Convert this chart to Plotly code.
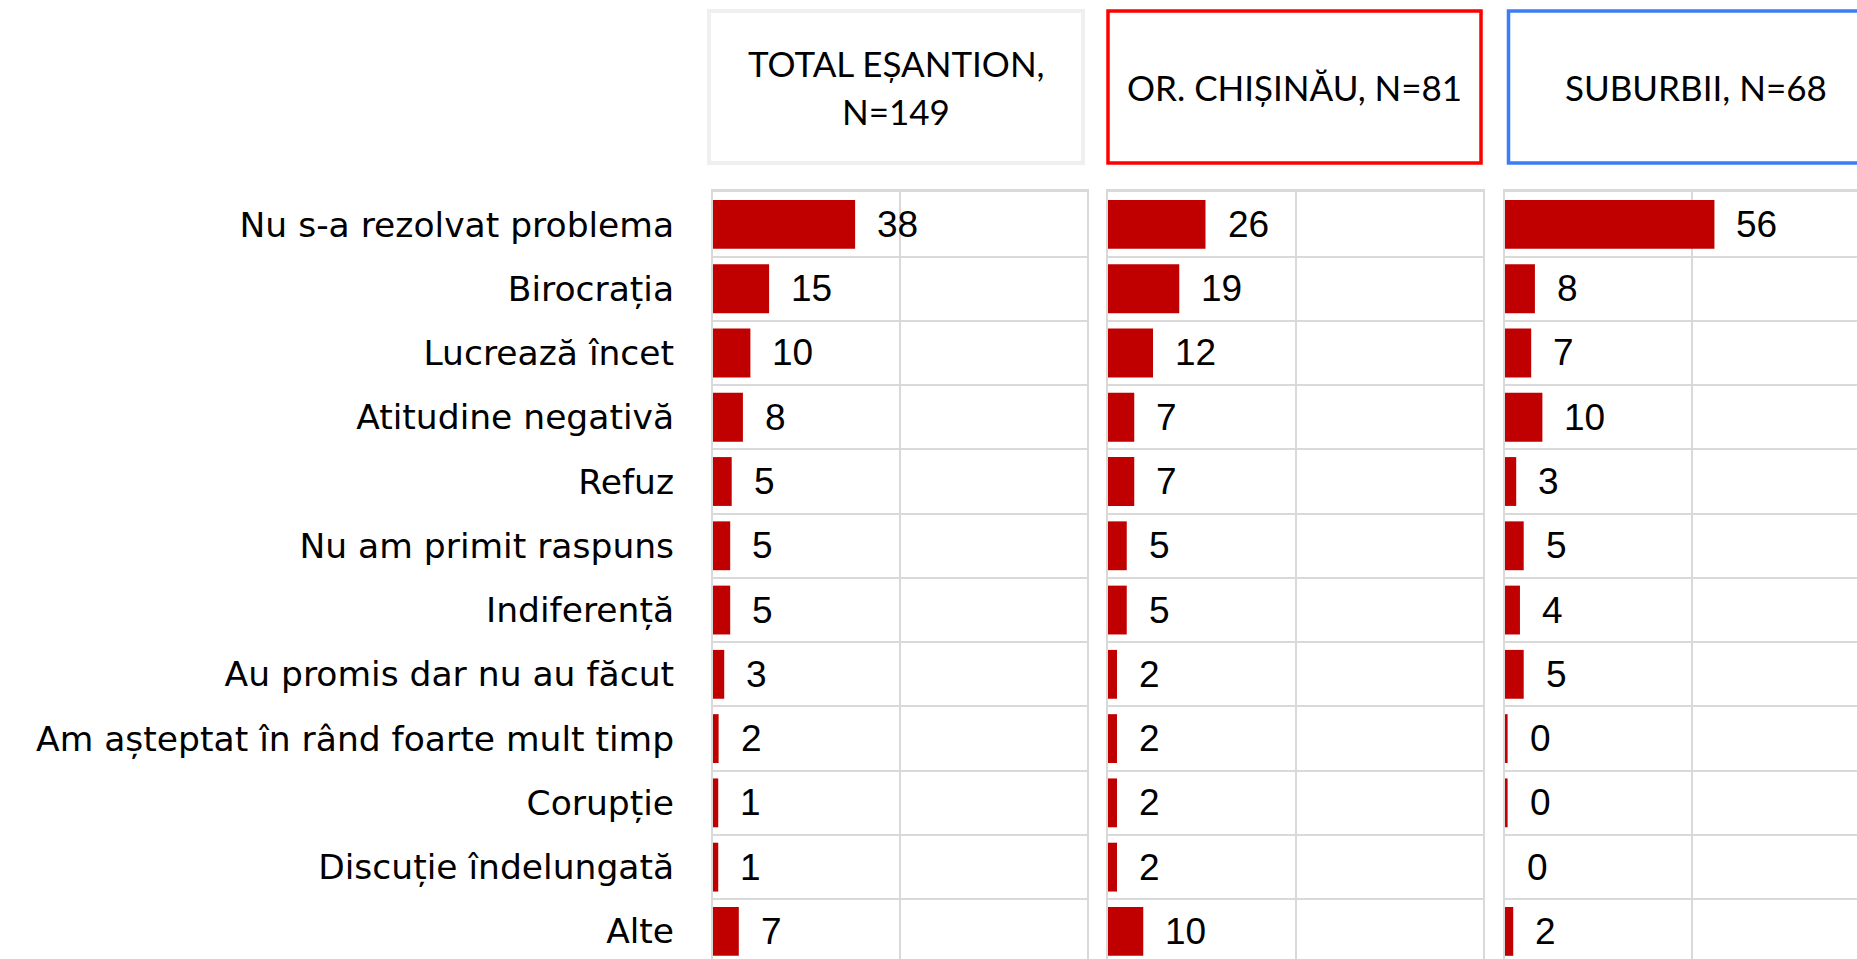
import plotly.graph_objects as go

# ---------------- data ----------------
categories = [
    "Nu s-a rezolvat problema",
    "Birocrația",
    "Lucrează încet",
    "Atitudine negativă",
    "Refuz",
    "Nu am primit raspuns",
    "Indiferență",
    "Au promis dar nu au făcut",
    "Am așteptat în rând foarte mult timp",
    "Corupție",
    "Discuție îndelungată",
    "Alte",
]

panel_titles = ["TOTAL EȘANTION,<br>N=149", "OR. CHIȘINĂU, N=81", "SUBURBII, N=68"]

# displayed (rounded) values
total_labels = [38, 15, 10, 8, 5, 5, 5, 3, 2, 1, 1, 7]
chisinau_labels = [26, 19, 12, 7, 7, 5, 5, 2, 2, 2, 2, 10]
suburbii_labels = [56, 8, 7, 10, 3, 5, 4, 5, 0, 0, 0, 2]

# bar lengths (unrounded estimates)
total_values = [38, 15, 10, 8, 5, 4.6, 4.6, 3, 1.5, 1.4, 1.4, 6.9]
chisinau_values = [26, 19, 12, 7, 7, 5, 5, 2.4, 2.4, 2.4, 2.4, 9.4]
suburbii_values = [56, 8, 7, 10, 3, 5, 4, 5, 0.7, 0.7, 0, 2.2]

# ---------------- style / layout ----------------
W, H = 1857, 959
BAR = "#c00000"
GRID = "#d9d9d9"
LABEL_FONT = "Liberation Sans, Arial, sans-serif"
CAT_FONT = "DejaVu Sans, Verdana, sans-serif"
HEAD_FONT = "Lato, Open Sans, sans-serif"


def px(x):
    return x / W


def py(y):
    return 1 - y / H


PX_PER_UNIT = 3.74
top_px = 192.3
row_px = 64.27
y_bottom = -0.5 + (H - top_px) / row_px

fig = go.Figure()

panels = [
    (total_values, total_labels, "x", "y"),
    (chisinau_values, chisinau_labels, "x2", "y2"),
    (suburbii_values, suburbii_labels, "x3", "y3"),
]

for vals, labs, xa, ya in panels:
    fig.add_trace(go.Bar(
        x=vals, y=categories, orientation="h",
        xaxis=xa, yaxis=ya, width=0.76,
        marker=dict(color=BAR, line=dict(width=0)),
        hoverinfo="skip", showlegend=False,
    ))
    for v, l, c in zip(vals, labs, categories):
        fig.add_annotation(
            x=v, y=c, xref=xa, yref=ya, text=str(l), showarrow=False,
            xanchor="left", yanchor="middle", xshift=20,
            font=dict(family=LABEL_FONT, size=37, color="black"),
        )

xcommon = dict(
    showgrid=True, gridcolor=GRID, gridwidth=2, tickvals=[50],
    showticklabels=False, ticks="", zeroline=False,
    showline=True, linecolor=GRID, linewidth=3, side="top", fixedrange=True,
)
ycommon = dict(
    type="category", categoryorder="array", categoryarray=categories,
    range=[y_bottom, -0.5], tickson="boundaries",
    showgrid=True, gridcolor=GRID, gridwidth=2,
    showline=True, linecolor=GRID, linewidth=2, ticks="",
    domain=[0, py(top_px)], fixedrange=True,
)

fig.update_layout(
    width=W, height=H,
    margin=dict(l=0, r=0, t=0, b=0),
    paper_bgcolor="white", plot_bgcolor="white",
    xaxis=dict(domain=[px(713), px(1087)], range=[0, 100], anchor="y", **xcommon),
    xaxis2=dict(domain=[px(1108), px(1483)], range=[0, 100], anchor="y2", **xcommon),
    xaxis3=dict(domain=[px(1505), 1], range=[0, (W - 1505) / PX_PER_UNIT], anchor="y3", **xcommon),
    yaxis=dict(anchor="x", mirror=True, showticklabels=True, ticklabelstandoff=30,
               tickfont=dict(family=CAT_FONT, size=34.5, color="black"), **ycommon),
    yaxis2=dict(anchor="x2", mirror=True, showticklabels=False, **ycommon),
    yaxis3=dict(anchor="x3", mirror=False, showticklabels=False, **ycommon),
)

# header boxes
boxes = [
    (709, 1083, "#efefef", 4),
    (1108, 1481, "#ff0000", 3.5),
    (1508.5, 1883, "#3a7df5", 3.5),
]
LINE_PITCH = 48
for (x0, x1, col, lw), title in zip(boxes, panel_titles):
    fig.add_shape(type="rect", xref="paper", yref="paper",
                  x0=px(x0), x1=px(x1), y0=py(163), y1=py(11),
                  line=dict(color=col, width=lw), fillcolor="rgba(0,0,0,0)")
    lines = title.split("<br>")
    n = len(lines)
    for i, line in enumerate(lines):
        yc = 87 + (i - (n - 1) / 2) * LINE_PITCH
        fig.add_annotation(
            xref="paper", yref="paper", x=px((x0 + x1) / 2), y=py(yc),
            text=line, showarrow=False, xanchor="center", yanchor="middle",
            font=dict(family=HEAD_FONT, size=35, color="black"),
        )

fig.write_html(
    "out.html",
    config={"displayModeBar": False},
    post_script="document.body.style.margin='0px';document.body.style.overflow='hidden';",
)
